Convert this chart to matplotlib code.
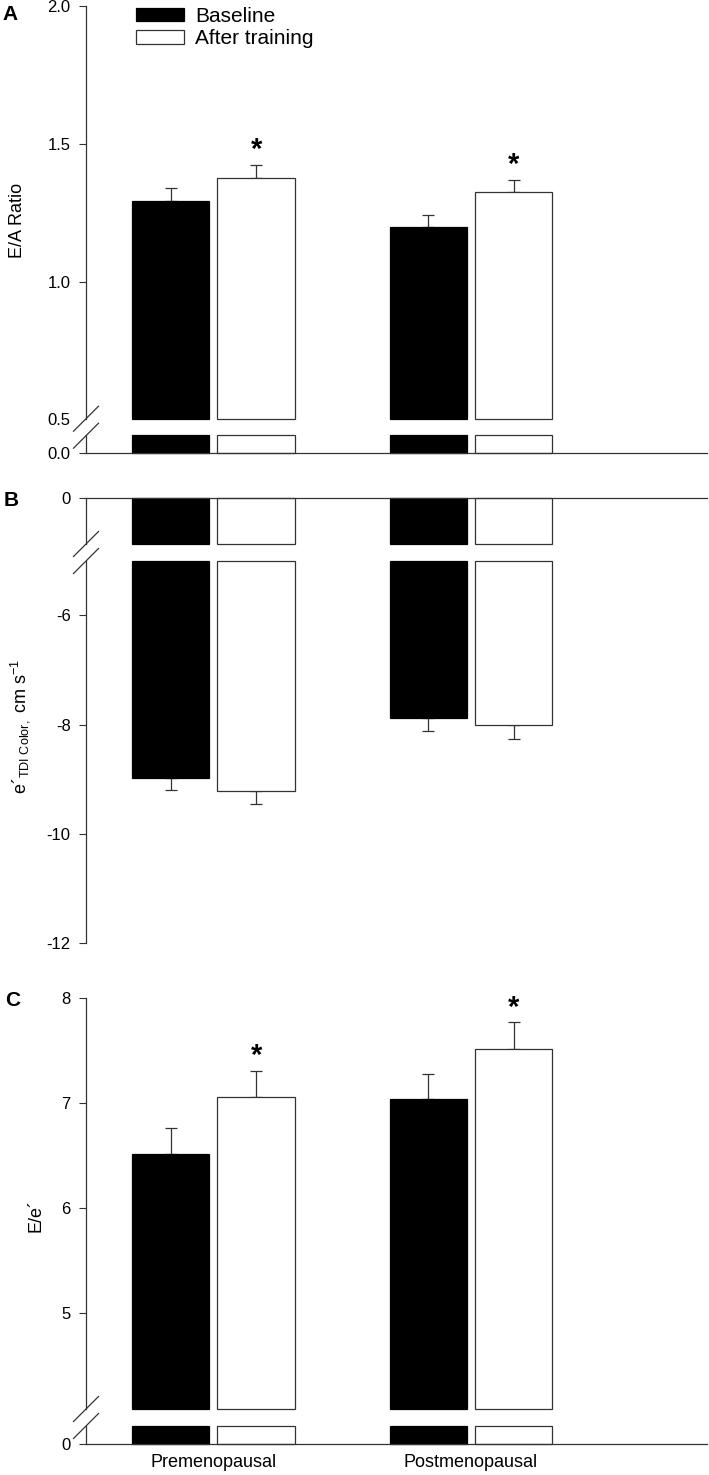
import numpy as np
import matplotlib
matplotlib.use("Agg")
import matplotlib.pyplot as plt
from matplotlib.patches import Patch
from matplotlib.lines import Line2D

plt.rcParams['font.family'] = ['Liberation Sans', 'DejaVu Sans']
plt.rcParams['mathtext.fontset'] = 'custom'
plt.rcParams['mathtext.rm'] = 'Liberation Sans'
plt.rcParams['mathtext.it'] = 'Liberation Sans'

groups = ["Premenopausal", "Postmenopausal"]
series = ["Baseline", "After training"]

# A: E/A ratio
ea_base = [1.294, 1.199]
ea_base_err = [0.045, 0.042]
ea_after = [1.378, 1.325]
ea_after_err = [0.046, 0.044]
ea_sig = [True, True]

# B: e' TDI color (cm/s)
e_base = [-8.97, -7.88]
e_base_err = [0.23, 0.24]
e_after = [-9.21, -8.01]
e_after_err = [0.24, 0.25]

# C: E/e'
ee_base = [6.51, 7.04]
ee_base_err = [0.25, 0.24]
ee_after = [7.06, 7.52]
ee_after_err = [0.25, 0.25]
ee_sig = [True, True]

W, H = 709, 1475
fig = plt.figure(figsize=(W / 100, H / 100), dpi=100)
DARK = '#333333'
X_LEFT, X_RIGHT = 86, 707
x = np.arange(len(groups))
off, bw = 0.166, 0.30


def rect(top_px, bot_px):
    return [X_LEFT / W, 1 - bot_px / H, (X_RIGHT - X_LEFT) / W, (bot_px - top_px) / H]


def style(ax, show_bottom=False, show_top=False):
    ax.spines['right'].set_visible(False)
    ax.spines['top'].set_visible(show_top)
    ax.spines['bottom'].set_visible(show_bottom)
    for s in ax.spines.values():
        s.set_color(DARK)
        s.set_linewidth(0.9)
    ax.set_xlim(-0.494, 1.916)
    ax.set_xticks([])
    ax.tick_params(axis='y', direction='out', length=5, width=0.8, color=DARK,
                   labelsize=12, pad=6)
    ax.patch.set_alpha(0)


def draw_bars(ax, vals, errs, fc, xs, sig=None):
    y0, y1 = ax.get_ylim()
    for xi, v, e, s in zip(xs, vals, errs, sig if sig else [False] * len(vals)):
        b = np.clip(0, y0, y1)
        t = np.clip(v, y0, y1)
        ax.bar(xi, t - b, bottom=b, width=bw, color=fc, edgecolor=DARK if fc == 'white' else 'black',
               linewidth=0.9, clip_on=False, zorder=2)
        if y0 <= v <= y1:
            yerr = [[0], [e]] if v > 0 else [[e], [0]]
            ax.errorbar(xi, v, yerr=yerr, fmt='none', ecolor=DARK, elinewidth=0.9,
                        capsize=4, capthick=0.9, zorder=1)
            if s:
                ax.annotate('*', (xi, v + e), xytext=(0, 5), textcoords='offset points',
                            ha='center', va='baseline', fontsize=21, fontweight='bold')


def breaks(hi_bot_px, lo_top_px):
    yc = (hi_bot_px + lo_top_px) / 2
    for d in (-8.5, 8.5):
        xs = [(X_LEFT - 12.5) / W, (X_LEFT + 12.5) / W]
        ys = [1 - (yc + d + 12.5) / H, 1 - (yc + d - 12.5) / H]
        fig.add_artist(Line2D(xs, ys, color=DARK, lw=0.9, transform=fig.transFigure))


def panel(hi_px, lo_px, hi_lim, lo_lim, base, base_err, after, after_err, sig,
          hi_ticks, lo_ticks, negative=False):
    ax_hi = fig.add_axes(rect(*hi_px))
    ax_lo = fig.add_axes(rect(*lo_px))
    ax_hi.set_ylim(*hi_lim)
    ax_lo.set_ylim(*lo_lim)
    style(ax_hi, show_top=negative)
    style(ax_lo, show_bottom=not negative)
    ax_hi.set_yticks(hi_ticks[0])
    ax_hi.set_yticklabels(hi_ticks[1])
    ax_lo.set_yticks(lo_ticks[0])
    ax_lo.set_yticklabels(lo_ticks[1])
    for ax in (ax_hi, ax_lo):
        draw_bars(ax, base, base_err, 'black', x - off)
        draw_bars(ax, after, after_err, 'white', x + off, sig)
    breaks(hi_px[1], lo_px[0])
    return ax_hi, ax_lo


# Panel A
axA, axA_lo = panel((6.3, 419.4), (435, 452.7), (0.5, 2.0), (0, 0.064),
                    ea_base, ea_base_err, ea_after, ea_after_err, ea_sig,
                    ([0.5, 1.0, 1.5, 2.0], ['0.5', '1.0', '1.5', '2.0']),
                    ([0.0], ['0.0']))
axA.yaxis.get_major_ticks()[0].tick1line.set_visible(False)

# Panel B
axB, axB_lo = panel((497.7, 544.3), (560.7, 943.3), (-0.85, 0), (-12, -5),
                    e_base, e_base_err, e_after, e_after_err, None,
                    ([0], ['0']),
                    ([-12, -10, -8, -6], ['-12', '-10', '-8', '-6']), negative=True)

# Panel C
axC, axC_lo = panel((998.3, 1409), (1426, 1444), (4.08, 8), (0, 0.17),
                    ee_base, ee_base_err, ee_after, ee_after_err, ee_sig,
                    ([5, 6, 7, 8], ['5', '6', '7', '8']),
                    ([0], ['0']))
axC_lo.set_xticks(x)
axC_lo.set_xticklabels(groups, fontsize=13)
axC_lo.tick_params(axis='x', length=0, pad=7)

# legend
handles = [Patch(facecolor='black', edgecolor='black', linewidth=0.9),
           Patch(facecolor='white', edgecolor=DARK, linewidth=0.9)]
axA.legend(handles, series, loc='upper left', bbox_to_anchor=(136 / W, 1 - 7 / H),
           bbox_transform=fig.transFigure, frameon=False, fontsize=15,
           borderpad=0, borderaxespad=0, handlelength=2.3, handleheight=0.62,
           handletextpad=0.55, labelspacing=0.15)

# axis labels
fig.text(18 / W, 1 - 220 / H, 'E/A Ratio', rotation=90, ha='center', va='center', fontsize=13)
fig.text(20 / W, 1 - 726 / H, r"e´$_{\mathrm{TDI\ Color,}}$ cm s$^{-1}$", rotation=90,
         ha='center', va='center', fontsize=13)
fig.text(36 / W, 1 - 1215 / H, 'E/e´', rotation=90, ha='center', va='center', fontsize=13)

# panel letters
for lab, (px, py) in zip('ABC', [(10, 14), (11, 501), (13, 1000)]):
    fig.text(px / W, 1 - py / H, lab, ha='center', va='center', fontsize=15, fontweight='bold')

fig.savefig('out.png', dpi=100)
